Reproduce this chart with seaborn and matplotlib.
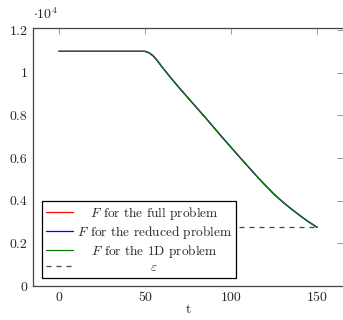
import numpy as np
import pandas as pd
import matplotlib
matplotlib.use("Agg")
import matplotlib.pyplot as plt
import seaborn as sns
from matplotlib.lines import Line2D
from matplotlib.offsetbox import VPacker

# ---- data ----
t = [0, 50, 52.5, 55, 57.5, 60, 65, 70, 75, 80, 85, 90, 95, 100, 105, 110,
     115, 120, 125, 130, 135, 140, 145, 150]
F_full = [11000, 11000, 10930, 10770, 10530, 10260, 9760, 9280, 8820, 8360,
          7900, 7430, 6960, 6500, 6040, 5590, 5140, 4710, 4300, 3940, 3610,
          3300, 3010, 2750]
F_reduced = list(F_full)
F_1d = list(F_full)
eps_t = [0, 150]
eps_val = [2750, 2750]

series_labels = [r"$F$ for the full problem", r"$F$ for the reduced problem",
                 r"$F$ for the 1D problem"]
eps_label = r"$\varepsilon$"
series_colors = ["#ff0000", "#0000ff", "#008000"]

xticks = [0, 50, 100, 150]
yticks = [0, 2000, 4000, 6000, 8000, 10000, 12000]
ytick_labels = ["0", "0.2", "0.4", "0.6", "0.8", "1", "1.2"]

df = pd.DataFrame({
    "t": t * 3,
    "F": F_full + F_reduced + F_1d,
    "series": [series_labels[0]] * len(t) + [series_labels[1]] * len(t)
              + [series_labels[2]] * len(t),
})
df_eps = pd.DataFrame({"t": eps_t, "F": eps_val})

sns.set_style("white")
plt.rcParams["font.family"] = ["cmr10", "DejaVu Serif"]
plt.rcParams["mathtext.fontset"] = "cm"
plt.rcParams["axes.formatter.use_mathtext"] = True
plt.rcParams["axes.unicode_minus"] = False

fig = plt.figure(figsize=(3.43, 3.2), dpi=100)
ax = fig.add_axes([33 / 343, 1 - 286 / 320, 310 / 343, 258 / 320])

sns.lineplot(data=df_eps, x="t", y="F", ax=ax, color="#444444",
             linestyle=(0, (4, 4)), linewidth=0.9, legend=False)
sns.lineplot(data=df, x="t", y="F", hue="series", palette=series_colors,
             hue_order=series_labels, ax=ax, linewidth=0.9, legend=False)

ax.set_xlim(-15, 165)
ax.set_ylim(0, 12094)
ax.set_xticks(xticks)
ax.set_xticklabels([str(v) for v in xticks])
ax.set_yticks(yticks)
ax.set_yticklabels(ytick_labels)
ax.set_xlabel("t", fontsize=10, labelpad=0)
ax.set_ylabel("")
ax.tick_params(axis="both", direction="in", length=4, width=0.6,
               color="#888888", labelsize=10, top=True, right=True,
               labeltop=False, labelright=False, pad=4)
for side in ["left", "bottom", "top", "right"]:
    ax.spines[side].set_color("#444444")
    ax.spines[side].set_linewidth(0.9)
ax.spines["right"].set_visible(False)

ax.text(0.0, 1.025, r"$\cdot 10^{4}$", transform=ax.transAxes, fontsize=10,
        ha="left", va="bottom")

handles = [Line2D([], [], color=c, linewidth=0.9) for c in series_colors]
handles.append(Line2D([], [], color="#444444", linewidth=0.9,
                      linestyle=(0, (4, 4))))
labels = series_labels + [eps_label]
leg = ax.legend(handles, labels, loc="lower left",
                bbox_to_anchor=(0.029, 0.031), borderaxespad=0,
                fontsize=9.6, frameon=True, fancybox=False, framealpha=1,
                edgecolor="black", handlelength=2.0, handletextpad=0.3,
                borderpad=0.3, labelspacing=0.15)
leg.get_frame().set_linewidth(0.9)

# center the label texts inside their column (pgfplots style)
renderer = fig.canvas.get_renderer()
col = leg._legend_handle_box.get_children()[0]
items = col.get_children()
tas = [it.get_children()[1] for it in items]
W = max(ta.get_bbox(renderer).width for ta in tas)
for it, ta in zip(items, tas):
    vp = VPacker(children=[ta], align="center", width=W, pad=0, sep=0)
    it._children[1] = vp

fig.savefig("out.png", dpi=100)
